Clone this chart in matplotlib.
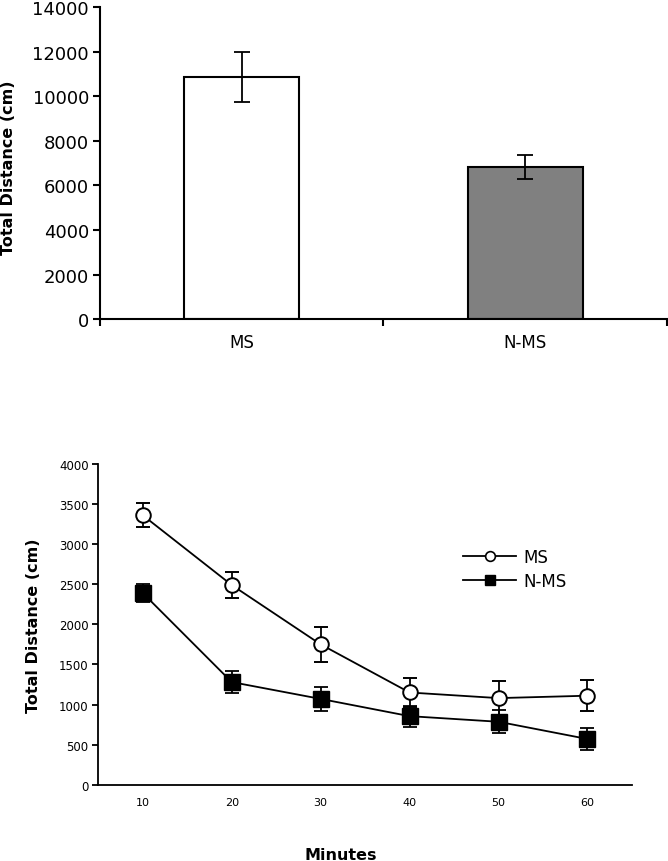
import matplotlib
matplotlib.use("Agg")
import matplotlib.pyplot as plt
import numpy as np
from matplotlib.lines import Line2D

# ---- data ----
groups = ["MS", "N-MS"]
group_means = [10880, 6830]
group_err = [1120, 520]
bar_colors = ["white", "#808080"]

minutes = [10, 20, 30, 40, 50, 60]
ms_means = [3360, 2490, 1750, 1150, 1080, 1110]
ms_err = [150, 165, 215, 180, 210, 195]
nms_means = [2390, 1280, 1070, 855, 785, 570]
nms_err = [115, 135, 150, 130, 145, 140]

plt.rcParams['font.family'] = ['DejaVu Sans']

fig = plt.figure(figsize=(6.68, 8.62), dpi=100)

# ---- top bar chart ----
ax1 = fig.add_axes([0.1497, 0.6284, 0.8488, 0.3623])
x = np.arange(len(groups))
ax1.bar(x, group_means, width=0.405, color=bar_colors, edgecolor="black",
        linewidth=1.5, zorder=2)
ax1.errorbar(x, group_means, yerr=group_err, fmt="none", ecolor="black",
             elinewidth=1.3, capsize=5.5, capthick=1.3, zorder=3)
ax1.set_xlim(-0.5, 1.5)
ax1.set_ylim(0, 14000)
ax1.set_yticks(np.arange(0, 14001, 2000))
ax1.set_xticks([-0.5, 0.5, 1.5])
ax1.set_xticklabels([])
ax1.set_xticks(x, minor=True)
ax1.set_xticklabels(groups, minor=True)
ax1.tick_params(axis="x", which="minor", length=0, labelsize=12, pad=10)
ax1.tick_params(axis="x", which="major", length=5, width=1.5, direction="out")
ax1.tick_params(axis="y", length=5, width=1.5, direction="out", labelsize=13, pad=3)
for s in ["top", "right"]:
    ax1.spines[s].set_visible(False)
for s in ["left", "bottom"]:
    ax1.spines[s].set_linewidth(1.5)
ax1.set_ylabel("Total Distance (cm)", fontsize=11.5, fontweight="bold")
ax1.yaxis.set_label_coords(-0.148, 0.49)

# ---- bottom line chart ----
ax2 = fig.add_axes([0.1472, 0.0885, 0.7988, 0.3721])
ax2.errorbar(minutes, ms_means, yerr=ms_err, color="black", linewidth=1.3,
             elinewidth=1.3, capsize=5, capthick=1.3, marker="o", markersize=10.5,
             markerfacecolor="white", markeredgecolor="black", markeredgewidth=1.4,
             label="MS", zorder=3)
ax2.errorbar(minutes, nms_means, yerr=nms_err, color="black", linewidth=1.3,
             elinewidth=1.3, capsize=5, capthick=1.3, marker="s", markersize=11,
             markerfacecolor="black", markeredgecolor="black",
             label="N-MS", zorder=3)
ax2.set_xlim(5, 65)
ax2.set_ylim(0, 4000)
ax2.set_xticks(minutes)
ax2.set_yticks(np.arange(0, 4001, 500))
ax2.tick_params(axis="x", length=0, labelsize=8, pad=9)
ax2.tick_params(axis="y", length=4, width=1.3, direction="out", labelsize=8.5, pad=3)
for s in ["top", "right"]:
    ax2.spines[s].set_visible(False)
for s in ["left", "bottom"]:
    ax2.spines[s].set_linewidth(1.3)
ax2.set_ylabel("Total Distance (cm)", fontsize=11.5, fontweight="bold")
ax2.yaxis.set_label_coords(-0.107, 0.5)
ax2.set_xlabel("Minutes", fontsize=11.5, fontweight="bold")
ax2.xaxis.set_label_coords(0.455, -0.195)

labels = ["MS", "N-MS"]
h = [Line2D([0], [0], color="black", lw=1.3, marker="o", markersize=7,
            markerfacecolor="white", markeredgecolor="black", markeredgewidth=1.2),
     Line2D([0], [0], color="black", lw=1.3, marker="s", markersize=7,
            markerfacecolor="black")]
ax2.legend(h, labels, loc="upper left", bbox_to_anchor=(0.671, 0.758),
           frameon=False, fontsize=12, handlelength=3.2, handletextpad=0.4,
           labelspacing=0.35, borderaxespad=0)

fig.savefig("out.png", dpi=100)
